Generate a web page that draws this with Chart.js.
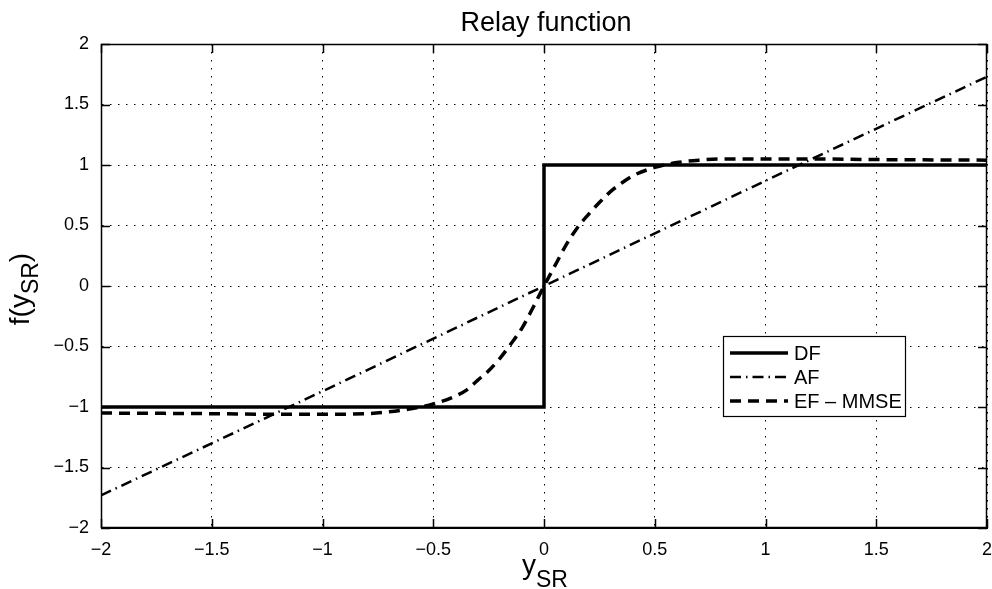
<!DOCTYPE html>
<html>
<head>
<meta charset="utf-8">
<script src="https://cdn.jsdelivr.net/npm/chart.js@4"></script>
<style>
  html, body { margin: 0; padding: 0; background: #fff; }
  canvas { display: block; }
</style>
</head>
<body>
<canvas id="relay-chart" width="992" height="589"></canvas>
<script>
// relay function curves
const dfX = [-2, 0, 0, 2];
const dfY = [-1, -1, 1, 1];

const afX = [-2, -1, 0, 1, 2];
const afY = [-1.73, -0.87, 0, 0.87, 1.73];

const efX = [-2, -1.5, -1.2, -1, -0.8, -0.7, -0.6, -0.5, -0.4, -0.35, -0.3, -0.25, -0.2, -0.15, -0.1, -0.05,
  0, 0.05, 0.1, 0.15, 0.2, 0.25, 0.3, 0.35, 0.4, 0.5, 0.6, 0.7, 0.8, 1, 1.2, 1.5, 2];
const efY = [-1.05, -1.055, -1.06, -1.06, -1.055, -1.04, -1.015, -0.975, -0.91, -0.86, -0.78, -0.70, -0.60, -0.48, -0.35, -0.18,
  0, 0.17, 0.34, 0.48, 0.59, 0.69, 0.78, 0.85, 0.91, 0.98, 1.02, 1.04, 1.05, 1.05, 1.05, 1.045, 1.04];

const seriesLabels = ['DF', 'AF', 'EF \u2013 MMSE'];
const tickValues = [-2, -1.5, -1, -0.5, 0, 0.5, 1, 1.5, 2];

const FONT = '"Liberation Sans", Arial, Helvetica, sans-serif';

function pts(xs, ys) {
  return xs.map((x, i) => ({ x, y: ys[i] }));
}

function fmtTick(v) {
  return (v < 0 ? '\u2212' : '') + Math.abs(v);
}

// title, axis labels with subscripts, frame, inward ticks and boxed legend
const decor = {
  id: 'decor',
  beforeDraw(chart) {
    const ctx = chart.ctx;
    ctx.save();
    ctx.fillStyle = '#fff';
    ctx.fillRect(0, 0, chart.width, chart.height);
    ctx.restore();
  },
  afterDatasetsDraw(chart) {
    const { ctx, chartArea: a, scales } = chart;
    ctx.save();

    // frame
    ctx.strokeStyle = '#000';
    ctx.lineWidth = 1.5;
    ctx.setLineDash([]);
    ctx.strokeRect(a.left + 0.5, a.top + 0.5, a.right - a.left - 1, a.bottom - a.top - 1);

    // inward ticks
    const tl = 9;
    ctx.beginPath();
    tickValues.forEach((v) => {
      const px = Math.round(scales.x.getPixelForValue(v)) + 0.5;
      ctx.moveTo(px, a.bottom); ctx.lineTo(px, a.bottom - tl);
      ctx.moveTo(px, a.top); ctx.lineTo(px, a.top + tl);
      const py = Math.round(scales.y.getPixelForValue(v)) + 0.5;
      ctx.moveTo(a.left, py); ctx.lineTo(a.left + tl, py);
      ctx.moveTo(a.right, py); ctx.lineTo(a.right - tl, py);
    });
    ctx.stroke();

    // legend
    const lx = 723, ly = 336, lw = 182, lh = 80;
    ctx.fillStyle = '#fff';
    ctx.fillRect(lx, ly, lw, lh);
    ctx.lineWidth = 1.2;
    ctx.strokeRect(lx + 0.5, ly + 0.5, lw, lh);
    ctx.font = '20px ' + FONT;
    ctx.textBaseline = 'middle';
    ctx.textAlign = 'left';
    chart.data.datasets.forEach((ds, i) => {
      const y = 353 + i * 24;
      ctx.strokeStyle = '#000';
      ctx.lineWidth = ds.borderWidth;
      ctx.setLineDash(ds.borderDash || []);
      ctx.beginPath();
      ctx.moveTo(730, y);
      ctx.lineTo(788, y);
      ctx.stroke();
      ctx.setLineDash([]);
      ctx.fillStyle = '#000';
      ctx.fillText(ds.label, 794, y + 1);
    });

    ctx.restore();
  },
  afterDraw(chart) {
    const ctx = chart.ctx;
    ctx.save();
    ctx.fillStyle = '#000';
    ctx.textBaseline = 'alphabetic';

    // title
    ctx.font = '27px ' + FONT;
    ctx.textAlign = 'center';
    ctx.fillText('Relay function', 546, 31);

    // x label: y_SR
    ctx.textAlign = 'left';
    ctx.font = '28px ' + FONT;
    const wy = ctx.measureText('y').width;
    ctx.font = '23px ' + FONT;
    const wsr = ctx.measureText('SR').width;
    let x0 = 545 - (wy + wsr) / 2;
    ctx.font = '28px ' + FONT;
    ctx.fillText('y', x0, 574);
    ctx.font = '23px ' + FONT;
    ctx.fillText('SR', x0 + wy, 587);

    // y label: f(y_SR), rotated
    ctx.translate(29, 289);
    ctx.rotate(-Math.PI / 2);
    ctx.font = '28px ' + FONT;
    const w1 = ctx.measureText('f(y').width;
    const w3 = ctx.measureText(')').width;
    ctx.font = '23px ' + FONT;
    const w2 = ctx.measureText('SR').width;
    x0 = -(w1 + w2 + w3) / 2;
    ctx.font = '28px ' + FONT;
    ctx.fillText('f(y', x0, 0);
    ctx.font = '23px ' + FONT;
    ctx.fillText('SR', x0 + w1, 9);
    ctx.font = '28px ' + FONT;
    ctx.fillText(')', x0 + w1 + w2, 0);

    ctx.restore();
  },
};

const axisCommon = {
  type: 'linear',
  min: -2,
  max: 2,
  afterBuildTicks: (scale) => { scale.ticks = tickValues.map((v) => ({ value: v })); },
  grid: { color: '#000', lineWidth: 1, drawTicks: false, tickLength: 0 },
  border: { display: true, color: '#000', width: 1, dash: [1.5, 6.5] },
};

new Chart(document.getElementById('relay-chart'), {
  type: 'line',
  data: {
    datasets: [
      { label: seriesLabels[0], data: pts(dfX, dfY), borderColor: '#000', borderWidth: 3.5, pointRadius: 0, tension: 0 },
      { label: seriesLabels[1], data: pts(afX, afY), borderColor: '#000', borderWidth: 2.5, borderDash: [11, 5, 1.5, 5], pointRadius: 0, tension: 0 },
      { label: seriesLabels[2], data: pts(efX, efY), borderColor: '#000', borderWidth: 3.5, borderDash: [11, 7], pointRadius: 0, cubicInterpolationMode: 'monotone' },
    ],
  },
  options: {
    responsive: false,
    animation: false,
    events: [],
    layout: { padding: { top: 44, right: 5, left: 0, bottom: 0 } },
    plugins: { legend: { display: false }, title: { display: false }, tooltip: { enabled: false } },
    scales: {
      x: {
        ...axisCommon,
        afterFit: (scale) => { scale.height = 61; scale.paddingLeft = 0; scale.paddingRight = 0; },
        ticks: { color: '#000', padding: 11, maxRotation: 0, font: { family: FONT, size: 18 }, callback: fmtTick },
      },
      y: {
        ...axisCommon,
        afterFit: (scale) => { scale.width = 101; scale.paddingTop = 0; scale.paddingBottom = 0; },
        ticks: { color: '#000', padding: 12, font: { family: FONT, size: 18 }, callback: fmtTick },
      },
    },
  },
  plugins: [decor],
});
</script>
</body>
</html>
